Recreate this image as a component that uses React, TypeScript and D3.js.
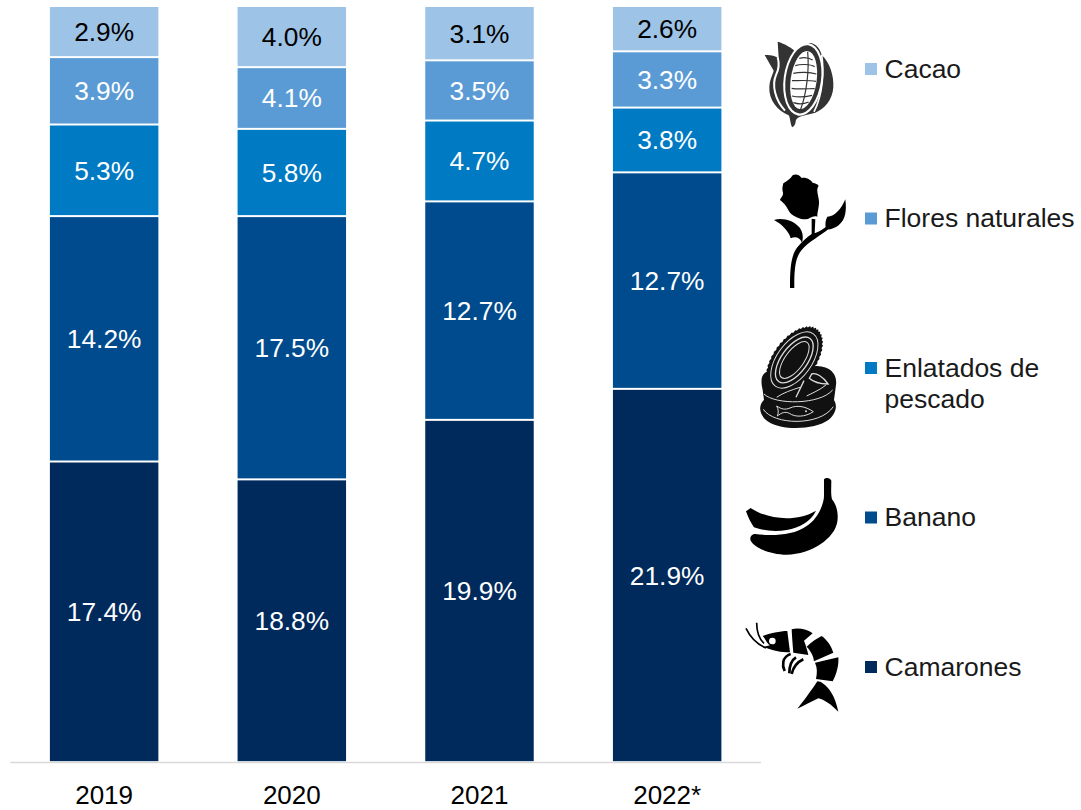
import React from "react";
import * as d3 from "d3";

const years = ["2019", "2020", "2021", "2022*"];
const seriesNames = ["Camarones", "Banano", "Enlatados de pescado", "Flores naturales", "Cacao"];
const camarones = [17.4, 18.8, 19.9, 21.9];
const banano = [14.2, 17.5, 12.7, 12.7];
const enlatados = [5.3, 5.8, 4.7, 3.8];
const flores = [3.9, 4.1, 3.5, 3.3];
const cacao = [2.9, 4.0, 3.1, 2.6];
const colors = ["#002A5C", "#004B8D", "#007AC3", "#5B9BD5", "#9DC3E6"];
const labelColors = ["#fff", "#fff", "#fff", "#fff", "#000"];
const legendOrder = [
  { name: "Cacao", lines: ["Cacao"], color: 4 },
  { name: "Flores naturales", lines: ["Flores naturales"], color: 3 },
  { name: "Enlatados de pescado", lines: ["Enlatados de", "pescado"], color: 2 },
  { name: "Banano", lines: ["Banano"], color: 1 },
  { name: "Camarones", lines: ["Camarones"], color: 0 },
];

const FONT = "'Liberation Sans', Arial, sans-serif";
const rows = years.map((y, i) => ({
  year: y,
  Camarones: camarones[i],
  Banano: banano[i],
  "Enlatados de pescado": enlatados[i],
  "Flores naturales": flores[i],
  Cacao: cacao[i],
}));

const stack = d3.stack<any>().keys(seriesNames).offset(d3.stackOffsetExpand);
const stacked = stack(rows);
const x = d3.scaleBand().domain(years).range([10.3, 761]).paddingInner(0.422).paddingOuter(0.211);
const y = d3.scaleLinear().domain([0, 1]).range([762.2, 7]);
const legendY = d3.scalePoint().domain(legendOrder.map((d) => d.name)).range([69, 667]);

function CacaoIcon() {
  return (
    <g transform="translate(740,20) scale(0.3333)">
      <path fill="#333" d="M157 322C150 312 152 296 146 286C112 272 86 240 88 202C89 178 98 165 101 152L74 105C90 104 103 106 116 114L113 65C135 71 155 84 168 96C180 78 198 66 216 70C234 76 241 92 245 105C270 128 282 168 280 202C278 240 252 268 226 278C202 285 172 288 168 300C166 308 167 316 157 322Z" />
      <path fill="none" stroke="#fff" strokeWidth="6" d="M113 112C118 130 116 150 108 165C95 195 105 240 135 272" />
      <path fill="none" stroke="#fff" strokeWidth="5" d="M245 105C252 150 250 220 222 276" />
      <ellipse cx="190" cy="178" rx="59" ry="110" transform="rotate(8 190 178)" fill="#fff" />
      <ellipse cx="190" cy="178" rx="53" ry="103" transform="rotate(8 190 178)" fill="#333" />
      <ellipse cx="191" cy="180" rx="39" ry="88" transform="rotate(8 191 180)" fill="#fff" />
      <g fill="none" stroke="#333" strokeWidth="3.5">
        <path d="M203 95C208 150 200 220 182 268" />
        <path d="M178 115C188 112 205 112 218 120" />
        <path d="M166 137C180 132 210 132 224 140" />
        <path d="M160 160C178 156 210 156 229 162" />
        <path d="M156 182C175 182 208 180 228 184" />
        <path d="M155 205C172 208 205 206 224 206" />
        <path d="M156 228C172 232 200 230 216 226" />
        <path d="M160 248C172 252 192 252 206 246" />
      </g>
    </g>
  );
}

function RoseIcon() {
  return (
    <g transform="translate(740,20) scale(0.3333)" fill="#000">
      <path d="M130 490C140 484 150 478 158 466C168 460 180 466 185 474C196 470 212 478 218 488C226 490 234 492 236 498C228 508 234 522 236 536C240 556 232 572 232 590C218 584 206 600 196 598C180 598 162 590 150 578C140 562 136 552 120 540C124 530 132 528 128 514C126 506 128 498 130 490Z" />
      <path d="M102 600C125 592 160 600 178 622C190 638 190 655 186 668C178 650 165 650 152 655C148 635 125 612 102 600Z" />
      <path d="M316 538C320 570 318 598 296 616C284 626 268 630 258 628C255 612 256 600 262 590C285 590 305 565 316 538Z" />
      <path d="M215 596L226 598L224 640C240 634 250 626 262 618L266 626C245 645 205 665 185 690C168 710 162 740 163 804L150 804C150 740 154 705 172 682C185 666 200 652 215 642Z" />
    </g>
  );
}

function CanIcon() {
  const n = 46;
  const teeth = d3.range(n * 2).map((i) => {
    const a = (i / (n * 2)) * 2 * Math.PI;
    const k = i % 2 ? 1 : 1.045;
    return [k * 62 * Math.cos(a), k * 112 * Math.sin(a)];
  });
  return (
    <g transform="translate(740,310) scale(0.3333)">
      <path fill="#111" d="M68 240C60 205 65 190 90 180L230 168C275 170 292 195 288 225L282 270C292 285 290 310 265 330C225 360 125 362 85 335C55 315 55 285 72 270Z" />
      <path fill="none" stroke="#ddd" strokeWidth="3" d="M72 252C105 285 240 285 278 240" />
      <path fill="none" stroke="#ddd" strokeWidth="3" d="M70 298C100 345 240 350 280 290" />
      <g transform="translate(163,150) rotate(36)">
        <path fill="#111" d={"M" + teeth.map((p) => p.join(",")).join("L") + "Z"} />
        <ellipse rx="52" ry="97" fill="none" stroke="#ddd" strokeWidth="3" />
        <ellipse rx="39" ry="80" fill="none" stroke="#ddd" strokeWidth="4" />
        <ellipse rx="28" ry="65" fill="none" stroke="#ddd" strokeWidth="3" />
      </g>
      <path fill="none" stroke="#ddd" strokeWidth="3" d="M110 288C125 298 135 300 150 294C170 285 195 288 220 305C195 322 165 322 148 310C135 304 125 308 112 318C116 308 116 298 110 288Z" />
      <circle cx="198" cy="304" r="3" fill="#ddd" />
      <path fill="none" stroke="#ddd" strokeWidth="4" d="M168 262L192 212M215 192C228 188 248 198 264 222C245 222 222 218 208 205Z" />
      <path fill="none" stroke="#ddd" strokeWidth="3" d="M110 262C130 248 155 240 180 232M200 258C215 250 240 240 258 225" />
    </g>
  );
}

function BananaIcon() {
  return (
    <g transform="translate(740,470) scale(0.3333)" fill="#000">
      <path d="M252 28C258 22 270 22 274 32C274 55 272 72 276 88C290 105 296 130 292 155C284 205 215 252 140 254C95 254 45 235 32 212C28 200 36 192 46 192C90 198 160 198 200 168C235 146 252 100 252 78C252 60 252 44 252 28Z" />
      <path d="M32 114C75 145 165 160 228 122C212 155 180 172 140 180C105 186 70 182 42 172C30 155 22 135 18 124Z" />
    </g>
  );
}

function ShrimpIcon() {
  return (
    <g transform="translate(740,470) scale(0.3333)" fill="#000">
      <path fill="none" stroke="#000" strokeWidth="5" d="M18 475C30 500 50 522 78 534" />
      <path fill="none" stroke="#000" strokeWidth="5" d="M50 458C50 480 56 505 72 520" />
      <path fillRule="evenodd" d="M68 498C90 490 120 483 142 483L150 547C125 547 95 542 72 530L90 526C78 518 76 505 68 498ZM97 503A10 10 0 1 0 97.1 523A10 10 0 1 0 97 503Z" />
      <path d="M155 478C175 472 202 478 218 490L192 512C197 525 202 540 205 555L160 548C158 525 156 500 155 478Z" />
      <path d="M200 530C215 515 232 505 245 498C262 510 275 530 280 548L222 574C220 558 214 545 200 530Z" />
      <path d="M225 578L295 562C297 585 290 612 278 634L228 627C232 608 232 592 225 578Z" />
      <path d="M232 634C238 634 245 636 248 640C270 655 285 680 295 725C275 705 255 690 235 685C215 695 195 705 172 716C190 695 215 660 232 634Z" />
      <path fill="none" stroke="#000" strokeWidth="8" d="M152 552C142 555 132 565 130 575C128 585 130 595 134 603" />
      <path fill="none" stroke="#000" strokeWidth="8" d="M168 562C155 570 148 585 148 610" />
      <path fill="none" stroke="#000" strokeWidth="8" d="M190 568C175 575 160 590 155 612" />
    </g>
  );
}

const icons = [CacaoIcon, RoseIcon, CanIcon, BananaIcon, ShrimpIcon];

export default function App() {
  const bw = x.bandwidth();
  return (
    <svg width={1081} height={810} style={{ position: "absolute", left: 0, top: 0, display: "block" }} fontFamily={FONT}>
      <rect width={1081} height={810} fill="#fff" />
      {stacked.map((s, si) => (
        <g key={s.key}>
          {s.map((d, i) => (
            <rect
              key={i}
              x={x(years[i])}
              y={y(d[1]) + (si === seriesNames.length - 1 ? 0 : 1)}
              width={bw}
              height={y(d[0]) - y(d[1]) - (si === seriesNames.length - 1 ? 1 : 2)}
              fill={colors[si]}
            />
          ))}
        </g>
      ))}
      {stacked.map((s, si) => (
        <g key={s.key}>
          {s.map((d, i) => (
            <text
              key={i}
              x={x(years[i])! + bw / 2}
              y={(y(d[0]) + y(d[1])) / 2}
              dy="0.35em"
              textAnchor="middle"
              fontSize={26.3}
              fill={labelColors[si]}
            >
              {((rows[i] as any)[s.key] as number).toFixed(1)}%
            </text>
          ))}
        </g>
      ))}
      <line x1={x.range()[0]} x2={x.range()[1]} y1={762.5} y2={762.5} stroke="#D9D9D9" strokeWidth={1.6} />
      {years.map((yr) => (
        <text key={yr} x={x(yr)! + bw / 2} y={804} textAnchor="middle" fontSize={26} fill="#000">
          {yr}
        </text>
      ))}
      {legendOrder.map((d) => {
        const cy = legendY(d.name)!;
        return (
          <g key={d.name}>
            <rect x={865} y={cy - 6} width={12} height={12} fill={colors[d.color]} />
            {d.lines.map((l, i) => (
              <text key={l} x={884.5} y={cy + i * 31 - 0.5} dy="0.35em" fontSize={26.5} fill="#1a1a1a">
                {l}
              </text>
            ))}
          </g>
        );
      })}
      {icons.map((Icon, i) => (
        <Icon key={i} />
      ))}
    </svg>
  );
}
